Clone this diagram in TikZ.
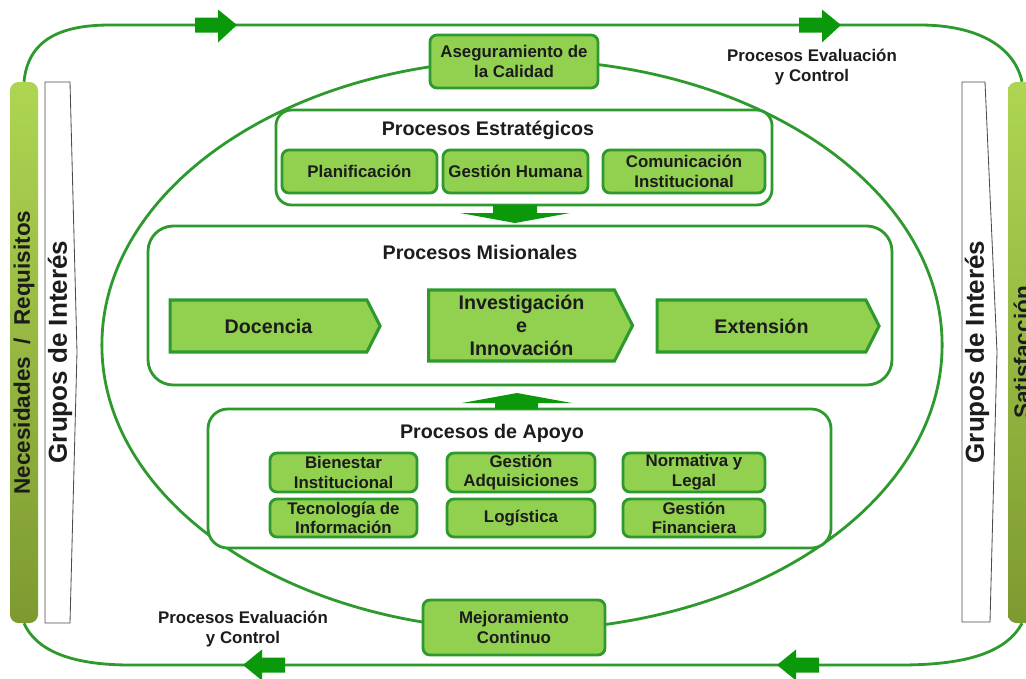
\documentclass[tikz,border=0pt]{standalone}
\usepackage{fontspec}
\setmainfont{Liberation Sans}
\usetikzlibrary{shapes.symbols,positioning}

\definecolor{leaf}{HTML}{92D050}
\definecolor{rim}{HTML}{2E9A2E}
\definecolor{arrowgreen}{HTML}{0B990B}
\definecolor{inkdark}{HTML}{1C1C1C}
\definecolor{barlight}{HTML}{AED552}
\definecolor{bardark}{HTML}{7D9A30}

% block arrows on the outer loop
\newcommand{\loopright}[1]{\fill[arrowgreen,shift={#1}] (-21,-7.5) -- (2,-7.5) -- (2,-15.5) -- (21,0) -- (2,17.5) -- (2,7.5) -- (-21,7.5) -- cycle;}
\newcommand{\loopleft}[1]{\fill[arrowgreen,shift={#1}] (21,-7.5) -- (-2,-7.5) -- (-2,-15.5) -- (-21,0) -- (-2,15.5) -- (-2,7.5) -- (21,7.5) -- cycle;}

\begin{document}
\begin{tikzpicture}[x=0.025cm,y=-0.025cm,
    every node/.style={text=inkdark},
    loopline/.style={draw=rim,line width=2pt},
    holder/.style={draw=rim,line width=2pt,fill=white},
    procbox/.style={draw=rim,line width=2pt,fill=leaf,rounded corners=5pt,align=center,inner sep=0pt,font=\fontsize{12}{14}\selectfont\bfseries},
    chevron/.style={signal,signal to=east,signal pointer angle=126,draw=rim,line width=2.2pt,fill=leaf,align=center,inner sep=0pt,font=\fontsize{14}{16.5}\selectfont\bfseries},
    grouptitle/.style={font=\fontsize{14}{16}\selectfont\bfseries},
    looplabel/.style={align=center,font=\fontsize{12}{14}\selectfont\bfseries},
    sidebar/.style={top color=barlight,bottom color=bardark,draw=none,rounded corners=6pt},
    bartext/.style={rotate=90,font=\fontsize{16}{18}\selectfont\bfseries},
    paneltext/.style={rotate=90,font=\fontsize{18.5}{20}\selectfont\bfseries},
    panel/.style={draw=gray!60!black,line width=0.6pt,fill=white},
    sized/.style 2 args={minimum width=#1*0.025cm,minimum height=#2*0.025cm}]

\useasboundingbox (0,0) rectangle (1026,678);

% side bars and interest groups
\node[sidebar,sized={28}{541}] (necbar) at (24,352.5) {};
\node[bartext] (necesidades) at (necbar) {Necesidades~~/~~Requisitos};
\node[sidebar,sized={28}{541}] (satbar) at (1022,352.5) {};
\node[bartext] (satisfaccion) at (satbar) {Satisfacción};

\draw[panel] (45,82) -- (70,82) -- (77,352) -- (70,623) -- (45,623) -- cycle;
\node[paneltext] (gruposizq) at (60,352) {Grupos de Interés};
\draw[panel] (962,82) -- (985,82) -- (997,352) -- (990,622) -- (962,622) -- cycle;
\node[paneltext] (gruposder) at (977,352) {Grupos de Interés};

% outer loop
\draw[loopline] (necbar.north) .. controls (28,40) and (60,25) .. (110,25) -- (920,25) .. controls (975,25) and (1014,45) .. (satbar.north);
\draw[loopline] (satbar.south) .. controls (1005,655) and (960,665) .. (900,665) -- (130,665) .. controls (70,665) and (36,650) .. (necbar.south);
\loopright{(216,25)}
\loopright{(820,25)}
\loopleft{(264,665)}
\loopleft{(798,665)}
\node[looplabel] (evaltop) at (812,67) {Procesos Evaluación\\y Control};
\node[looplabel] (evalbot) at (243,629) {Procesos Evaluación\\y Control};

% improvement cycle
\draw[loopline] (522,345) ellipse [x radius=10.5cm,y radius=7.125cm];
\node[procbox,sized={168}{53}] (asegura) at (514,61.5) {Aseguramiento de\\la Calidad};
\node[procbox,sized={182}{55}] (mejora) at (514,627.5) {Mejoramiento\\Continuo};

% strategic processes
\node[holder,rounded corners=11pt,sized={496}{95}] (estrategicos) at (524,157.5) {};
\node[grouptitle] (estrtitulo) at (488,130) {Procesos Estratégicos};
\node[procbox,sized={155}{43}] (planif) at (359.5,171.5) {Planificación};
\node[procbox,sized={145}{43}] (gesthum) at (515.5,171.5) {Gestión Humana};
\node[procbox,sized={162}{43}] (comunic) at (684,171.5) {Comunicación\\Institucional};

% missional processes
\node[holder,rounded corners=18pt,sized={744}{159}] (misionales) at (520,305.5) {};
\node[grouptitle] (misititulo) at (480,252) {Procesos Misionales};
\node[chevron,sized={210}{52}] (docencia) at (268.5,326) {Docencia};
\node[chevron,sized={204}{71}] (investig) at (521.5,325.5) {Investigación\\e\\Innovación};
\node[chevron,sized={222}{52}] (extension) at (761.5,326) {Extensión};

% support processes
\node[holder,rounded corners=14pt,sized={623}{139}] (apoyo) at (519.5,478.5) {};
\node[grouptitle] (apoyotitulo) at (492,433) {Procesos de Apoyo};
\node[procbox,sized={147}{39}] (bienestar) at (343.5,472.5) {Bienestar\\Institucional};
\node[procbox,sized={148}{39}] (adquis) at (521,472.5) {Gestión\\Adquisiciones};
\node[procbox,sized={142}{39}] (normativa) at (694,472.5) {Normativa y\\Legal};
\node[procbox,sized={147}{38}] (tecnolog) at (343.5,518) {Tecnología de\\Información};
\node[procbox,sized={148}{38}] (logistica) at (521,518) {Logística};
\node[procbox,sized={142}{38}] (financiera) at (694,518) {Gestión\\Financiera};

% flow between the groups
\fill[arrowgreen] (493,205) -- (537,205) -- (537,213) -- (570,213) -- (515,223) -- (460,213) -- (493,213) -- cycle;
\fill[arrowgreen] (495,409) -- (538,409) -- (538,403) -- (572,403) -- (517,393) -- (462,403) -- (495,403) -- cycle;
\end{tikzpicture}
\end{document}
